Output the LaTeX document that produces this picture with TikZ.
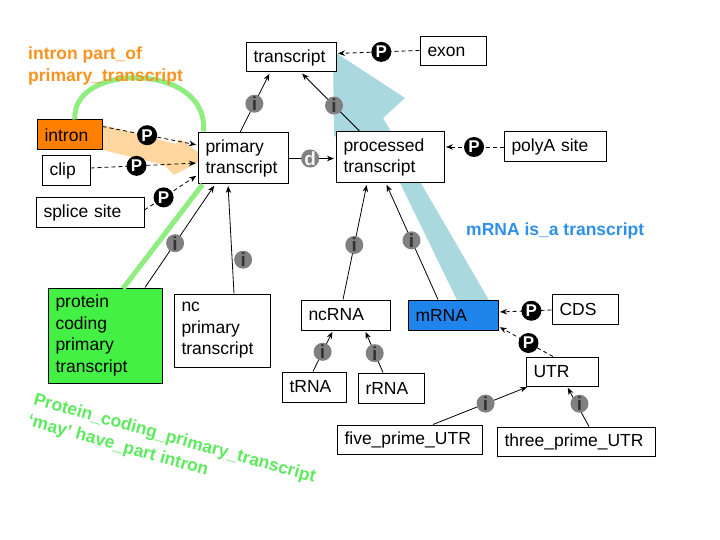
\documentclass[tikz,border=0pt]{standalone}
\usepackage{fontspec}
\setmainfont{Liberation Sans}
\usetikzlibrary{arrows.meta,calc}
\definecolor{intronor}{HTML}{FF7F00}
\definecolor{pcgreen}{HTML}{44F044}
\definecolor{mrnablue}{HTML}{1F85EC}
\definecolor{ortxt}{HTML}{F7931E}
\definecolor{grtxt}{HTML}{5EEA5E}
\definecolor{bltxt}{HTML}{3090E8}
\definecolor{arcgreen}{HTML}{90EE80}
\definecolor{orfade}{HTML}{FFD69E}
\definecolor{tealfade}{HTML}{A9D8DE}
\definecolor{mkgray}{HTML}{808080}

\begin{document}
\begin{tikzpicture}[
    x=1pt,y=-1pt,
    term/.style={draw,line width=1pt,fill=white,inner xsep=7.5pt,inner ysep=0pt,align=left,font=\fontsize{17.5}{21.5}\selectfont},
    isa/.style={->,line width=0.8pt,>={Stealth[length=7pt,width=5.5pt]},shorten >=1.5pt},
    partof/.style={isa,dash pattern=on 4pt off 3pt},
    imk/.style={circle,fill=mkgray,inner sep=0pt,minimum size=18pt,font=\fontsize{19}{19}\selectfont\bfseries,text=black!80},
    dmk/.style={imk,text=white!92!gray},
    pmk/.style={circle,fill=black,inner sep=0pt,minimum size=20pt,font=\fontsize{17}{17}\selectfont\bfseries,text=white},
    note/.style={inner sep=0pt,align=left,font=\fontsize{17.5}{22}\selectfont\bfseries}
]
\useasboundingbox[fill=white] (0,0) rectangle (720,540);

% big faded arrows behind the boxes
\fill[tealfade] (333,51) -- (405,98) -- (383,118) -- (490,302) -- (458,302) -- (384,150) -- (334,136) -- cycle;
\fill[orfade] (103,125) -- (176,144) -- (180,139) -- (206,158) -- (174,175) -- (164,165) -- (103,150) -- cycle;

% terms
\node[term,text width=75pt,minimum height=29pt] (trans) at (291,57.5) {transcript};
\node[term,text width=51pt,minimum height=29pt] (exon) at (453,51.5) {exon};
\node[term,text width=50pt,minimum height=30pt,fill=intronor] (intron) at (69.5,135) {intron};
\node[term,text width=33pt,minimum height=30pt] (clip) at (66,171) {clip};
\node[term,text width=93pt,minimum height=30pt] (splice) at (90,213) {splice site};
\node[term,text width=75pt,minimum height=51pt] (prim) at (243,158.5) {primary\\transcript};
\node[term,text width=93pt,minimum height=51pt] (proc) at (390,157.5) {processed\\transcript};
\node[term,text width=87pt,minimum height=30pt] (polyA) at (555,147) {polyA site};
\node[term,text width=99pt,minimum height=95pt,fill=pcgreen] (pcpt) at (105,335.5) {protein\\coding\\primary\\transcript};
\node[term,text width=81pt,minimum height=73pt] (ncpt) at (222,330.5) {nc\\primary\\transcript};
\node[term,text width=74pt,minimum height=30pt] (ncRNA) at (345.5,315) {ncRNA};
\node[term,text width=75pt,minimum height=30pt,fill=mrnablue] (mRNA) at (453,315) {mRNA};
\node[term,text width=49pt,minimum height=30pt] (tRNA) at (314,387) {tRNA};
\node[term,text width=51pt,minimum height=30pt] (rRNA) at (391,388) {rRNA};
\node[term,text width=51pt,minimum height=30pt] (CDS) at (585,309) {CDS};
\node[term,text width=57pt,minimum height=29pt] (UTR) at (562,371.5) {UTR};
\node[term,text width=130pt,minimum height=29pt] (fiveUTR) at (409.5,439.5) {five\_prime\_UTR};
\node[term,text width=143pt,minimum height=29pt] (threeUTR) at (576,441.5) {three\_prime\_UTR};

% green part_of arc and may-have-part line
\draw[arcgreen,line width=5pt] ([xshift=5.5pt]intron.north) .. controls +(-5,-57) and +(6,-70) .. ([xshift=6pt,yshift=1pt]prim.north west);
\draw[arcgreen,line width=5pt] ([xshift=18pt,yshift=-1pt]pcpt.north) -- ([xshift=5pt]prim.south west);

% is_a
\draw[isa] ([xshift=-3pt]prim.north) -- node[imk,pos=0.48] (i1) {i} ([xshift=-21pt]trans.south);
\draw[isa] ([xshift=-30pt]proc.north) -- node[imk,pos=0.44] (i2) {i} ([xshift=10pt]trans.south);
\draw[isa] ([xshift=40pt]pcpt.north) -- node[imk,pos=0.43] (i3) {i} ([xshift=-28pt]prim.south);
\draw[isa] ([xshift=12pt]ncpt.north) -- node[imk,pos=0.31,xshift=11pt] (i4) {i} ([xshift=-15pt]prim.south);
\draw[isa] ([xshift=-2.5pt]ncRNA.north) -- node[imk,pos=0.47] (i5) {i} ([xshift=-23pt]proc.south);
\draw[isa] ([xshift=-15pt]mRNA.north) -- node[imk,pos=0.51] (i6) {i} ([xshift=-4pt]proc.south);
\draw[isa] ([xshift=-1pt]tRNA.north) -- node[imk,pos=0.48] (i7) {i} ([xshift=-12.5pt]ncRNA.south);
\draw[isa] ([xshift=-8pt]rRNA.north) -- node[imk,pos=0.46] (i8) {i} ([xshift=19.5pt]ncRNA.south);
\draw[isa] ([xshift=23.5pt]fiveUTR.north) -- node[imk,pos=0.55] (i9) {i} ([xshift=3pt]UTR.south west);
\draw[isa] ([xshift=13pt]threeUTR.north) -- node[imk,pos=0.57,xshift=3pt] (i10) {i} ([xshift=5pt]UTR.south);

% develops_from
\draw[isa] (prim.east) -- node[dmk,pos=0.46] (d1) {d} (prim.east -| proc.west);

% part_of
\draw[partof] ([yshift=1pt]exon.west) -- node[pmk,pos=0.46] (p1) {P} ([yshift=4pt]trans.east);
\draw[partof] ([yshift=-7pt]intron.north east) -- node[pmk,pos=0.47] (p2) {P} ([yshift=13.5pt]prim.west);
\draw[partof] ([yshift=3pt]clip.east) -- node[pmk,pos=0.43] (p3) {P} ([yshift=-4.5pt]prim.west);
\draw[partof] ([yshift=3pt]splice.east) -- node[pmk,pos=0.36] (p4) {P} ([yshift=-16.5pt]prim.west);
\draw[partof] (polyA.west) -- node[pmk,pos=0.5] (p5) {P} (polyA.west -| proc.east);
\draw[partof] ([yshift=-1pt]CDS.west) -- node[pmk,pos=0.38] (p6) {P} ([yshift=3pt]mRNA.east);
\draw[partof] ([xshift=-9pt]UTR.north) -- node[pmk,pos=0.45] (p7) {P} ([yshift=4pt]mRNA.south east);

% notes
\node[note,text=ortxt,anchor=west] (noteintron) at (28,66) {intron part\_of\\primary\_transcript};
\node[note,text=bltxt,anchor=west] (notemrna) at (466,231) {mRNA is\_a transcript};
\node[note,text=grtxt,anchor=north west,rotate=-15.5] (notepcpt) at (36,392) {Protein\_coding\_primary\_transcript\\‘may’ have\_part intron};

\end{tikzpicture}
\end{document}
